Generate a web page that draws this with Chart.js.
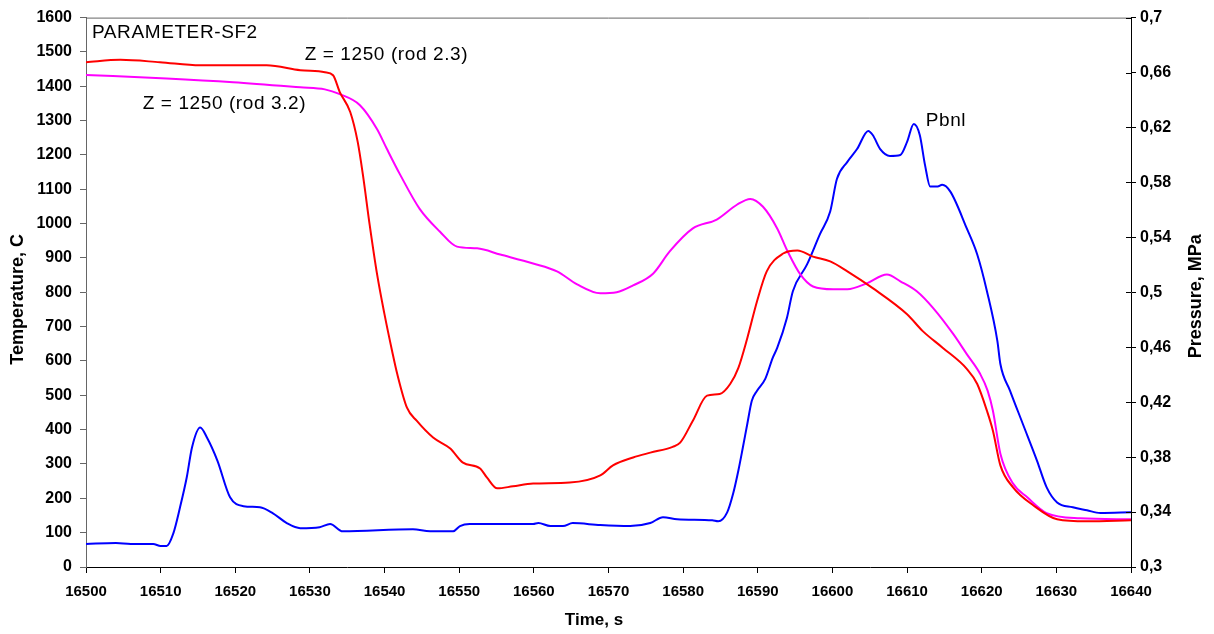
<!DOCTYPE html>
<html>
<head>
<meta charset="utf-8">
<script src="https://cdn.jsdelivr.net/npm/chart.js@4/dist/chart.umd.min.js"></script>
<style>
  html, body { margin: 0; padding: 0; background: #fff; }
  #wrap { width: 1214px; height: 634px; }
</style>
</head>
<body>
<div id="wrap"><canvas id="sf2Chart" width="1214" height="634"></canvas></div>
<script>
// Z = 1250 (rod 2.3), temperature in C
const redTime = [16500, 16504.6, 16509.9, 16515.3, 16524.2, 16528.7, 16532, 16533.1, 16534, 16535.4, 16536.4, 16537.1, 16538, 16539, 16540, 16541, 16541.7, 16543, 16544.3, 16546.5, 16548.8, 16550.5, 16552.8, 16553.7, 16555.1, 16557.2, 16559.9, 16564.8, 16568.9, 16570.6, 16573.3, 16575.6, 16578.6, 16579.6, 16581.3, 16583.2, 16584.9, 16586.3, 16587.4, 16588.6, 16589.9, 16591.2, 16593.4, 16595.3, 16597.4, 16599.7, 16602, 16605.4, 16610, 16612.1, 16614.8, 16618, 16619.4, 16620.7, 16621.5, 16622.5, 16624.2, 16626.9, 16630.1, 16634.1, 16640];
const redTemp = [1470, 1477, 1470, 1461, 1461, 1447, 1441, 1432, 1383, 1325, 1238, 1142, 997, 852, 735, 630, 562, 464, 426, 377, 345, 304, 287, 261, 229, 235, 243, 246, 267, 296, 319, 333, 350, 362, 426, 499, 504, 533, 580, 667, 774, 861, 913, 922, 904, 890, 861, 812, 736, 687, 638, 577, 533, 455, 397, 296, 232, 180, 139, 133, 136];

// Z = 1250 (rod 3.2), temperature in C
const pinkTime = [16500, 16510.8, 16519.7, 16528.7, 16532, 16534, 16536.7, 16539, 16540.3, 16542.1, 16544.7, 16547.4, 16549.7, 16552.4, 16555.5, 16559.9, 16563.1, 16565.8, 16568.9, 16571.1, 16573.3, 16576, 16578.2, 16581.3, 16584.5, 16587.2, 16589, 16590.7, 16592.6, 16594, 16595.7, 16597.4, 16600.1, 16602, 16604.6, 16607.3, 16609.1, 16611.3, 16613.5, 16616.2, 16618, 16619.8, 16620.8, 16621.5, 16622.5, 16624.2, 16626.1, 16628.7, 16633.2, 16640];
const pinkTemp = [1433, 1423, 1412, 1397, 1391, 1377, 1345, 1275, 1218, 1142, 1043, 977, 933, 928, 910, 884, 861, 823, 797, 800, 820, 855, 919, 986, 1012, 1055, 1072, 1049, 986, 919, 852, 817, 809, 809, 826, 852, 832, 803, 754, 678, 620, 562, 513, 455, 330, 243, 203, 157, 142, 139];

// Pbnl, pressure in MPa
const blueTime = [16500, 16504, 16506, 16509, 16510, 16510.8, 16511.7, 16512.6, 16513.5, 16514.2, 16515.3, 16516.2, 16517.6, 16519.3, 16521.1, 16523.3, 16525, 16526.9, 16528.7, 16531.3, 16532.7, 16534.4, 16543.8, 16546.1, 16549.2, 16550.1, 16551.4, 16559.9, 16560.6, 16562.2, 16563.9, 16565.2, 16568.9, 16572.9, 16575.6, 16577.3, 16579.2, 16583.9, 16584.7, 16585.9, 16586.7, 16587.4, 16588, 16588.6, 16589.2, 16589.9, 16591, 16592, 16592.6, 16593.9, 16594.7, 16596.6, 16598.3, 16599.7, 16600.6, 16602, 16603.3, 16604.8, 16605.4, 16606.4, 16607.7, 16609.1, 16610, 16610.9, 16611.7, 16612.4, 16613.1, 16614.1, 16614.7, 16615.8, 16618, 16619.4, 16620.7, 16622.1, 16622.5, 16623.8, 16625.5, 16627.4, 16628.7, 16630.1, 16632.2, 16634.1, 16635.9, 16640];
const bluePress = [0.3168, 0.3175, 0.3168, 0.3168, 0.3153, 0.3153, 0.3245, 0.3435, 0.3653, 0.387, 0.4015, 0.3943, 0.3775, 0.3508, 0.3443, 0.3435, 0.3393, 0.332, 0.3283, 0.329, 0.3313, 0.326, 0.3275, 0.326, 0.326, 0.3298, 0.3313, 0.3313, 0.332, 0.3298, 0.3298, 0.332, 0.3305, 0.3298, 0.332, 0.3363, 0.3348, 0.334, 0.3333, 0.3398, 0.3535, 0.3703, 0.387, 0.4043, 0.421, 0.4283, 0.437, 0.4523, 0.4595, 0.4813, 0.5008, 0.5203, 0.542, 0.5588, 0.5825, 0.595, 0.6043, 0.6175, 0.6145, 0.6043, 0.5993, 0.6, 0.6095, 0.6225, 0.6145, 0.5928, 0.577, 0.577, 0.5783, 0.5733, 0.5465, 0.5275, 0.5008, 0.4645, 0.4478, 0.4283, 0.4043, 0.3775, 0.358, 0.347, 0.3435, 0.3413, 0.3393, 0.3398];

// tick values
const timeTicks = [16500, 16510, 16520, 16530, 16540, 16550, 16560, 16570, 16580, 16590, 16600, 16610, 16620, 16630, 16640];
const tempTicks = [0, 100, 200, 300, 400, 500, 600, 700, 800, 900, 1000, 1100, 1200, 1300, 1400, 1500, 1600];
const pressTicks = [0.3, 0.34, 0.38, 0.42, 0.46, 0.5, 0.54, 0.58, 0.62, 0.66, 0.7];

// in-plot text labels (time, temperature anchor)
const notes = [
  { text: 'PARAMETER-SF2', t: 16500.8, T: 1557 },
  { text: 'Z = 1250 (rod 2.3)', t: 16529.3, T: 1493 },
  { text: 'Z = 1250 (rod 3.2)', t: 16507.6, T: 1348 },
  { text: 'Pbnl', t: 16612.5, T: 1301 }
];

const FONT = "'Liberation Sans', Arial, sans-serif";
Chart.defaults.font.family = FONT;
Chart.defaults.color = '#000';

const pts = (xs, ys) => xs.map((x, i) => ({ x: x, y: ys[i] }));
const fixTicks = arr => scale => { scale.ticks = arr.map(v => ({ value: v })); };

// draws the frame, cross ticks on the right axis, text labels and the titles
const extras = {
  id: 'extras',
  afterDraw(chart) {
    const { ctx, chartArea: a, scales } = chart;
    ctx.save();
    ctx.strokeStyle = '#666';
    ctx.lineWidth = 1;
    ctx.beginPath();
    ctx.moveTo(a.left, a.top + 0.5);
    ctx.lineTo(a.right, a.top + 0.5);
    ctx.stroke();

    ctx.strokeStyle = '#000';
    pressTicks.forEach(v => {
      const y = Math.round(scales.y2.getPixelForValue(v)) + 0.5;
      ctx.beginPath();
      ctx.moveTo(a.right - 5, y);
      ctx.lineTo(a.right, y);
      ctx.stroke();
    });

    ctx.fillStyle = '#000';
    ctx.textBaseline = 'middle';
    ctx.textAlign = 'left';
    ctx.font = '19px ' + FONT;
    ctx.letterSpacing = '0.6px';
    notes.forEach(n => {
      ctx.fillText(n.text, scales.x.getPixelForValue(n.t), scales.y.getPixelForValue(n.T));
    });
    ctx.letterSpacing = '0px';

    ctx.font = 'bold 17px ' + FONT;
    ctx.textAlign = 'center';
    ctx.fillText('Time, s', 594, 620);

    ctx.font = 'bold 18px ' + FONT;
    ctx.save();
    ctx.translate(18, (a.top + a.bottom) / 2 + 7);
    ctx.rotate(-Math.PI / 2);
    ctx.fillText('Temperature, C', 0, 0);
    ctx.restore();

    ctx.translate(1196, (a.top + a.bottom) / 2 + 4);
    ctx.rotate(-Math.PI / 2);
    ctx.fillText('Pressure, MPa', 0, 0);
    ctx.restore();
  }
};

new Chart(document.getElementById('sf2Chart'), {
  type: 'line',
  data: {
    datasets: [
      { label: 'Z = 1250 (rod 2.3)', data: pts(redTime, redTemp), borderColor: '#ff0000', yAxisID: 'y' },
      { label: 'Z = 1250 (rod 3.2)', data: pts(pinkTime, pinkTemp), borderColor: '#ff00ff', yAxisID: 'y' },
      { label: 'Pbnl', data: pts(blueTime, bluePress), borderColor: '#0000ff', yAxisID: 'y2' }
    ]
  },
  options: {
    responsive: false,
    animation: false,
    layout: { padding: { top: 15, left: 0, right: 0, bottom: 0 } },
    elements: {
      point: { radius: 0 },
      line: { borderWidth: 2, cubicInterpolationMode: 'monotone' }
    },
    plugins: { legend: { display: false }, tooltip: { enabled: false } },
    scales: {
      x: {
        type: 'linear',
        min: 16500,
        max: 16640,
        afterBuildTicks: fixTicks(timeTicks),
        afterFit: s => { s.height = 67; },
        grid: { drawOnChartArea: false, tickLength: 6, color: '#000' },
        border: { color: '#000', width: 1 },
        ticks: { font: { size: 15, weight: 'bold' }, padding: 10, maxRotation: 0, autoSkip: false, callback: v => String(v) },
        title: { display: false }
      },
      y: {
        position: 'left',
        min: 0,
        max: 1600,
        afterBuildTicks: fixTicks(tempTicks),
        afterFit: s => { s.width = 86; },
        grid: { drawOnChartArea: false, tickLength: 6, color: '#666' },
        border: { color: '#666', width: 1 },
        ticks: { font: { size: 16, weight: 'bold' }, padding: 8, autoSkip: false, callback: v => String(v) },
        title: { display: false }
      },
      y2: {
        position: 'right',
        min: 0.3,
        max: 0.7,
        afterBuildTicks: fixTicks(pressTicks),
        afterFit: s => { s.width = 83; },
        grid: { drawOnChartArea: false, tickLength: 5, color: '#000' },
        border: { color: '#000', width: 1 },
        ticks: {
          font: { size: 16, weight: 'bold' },
          padding: 4,
          autoSkip: false,
          callback: v => String(parseFloat(v.toFixed(2))).replace('.', ',')
        }
      }
    }
  },
  plugins: [extras]
});
</script>
</body>
</html>
